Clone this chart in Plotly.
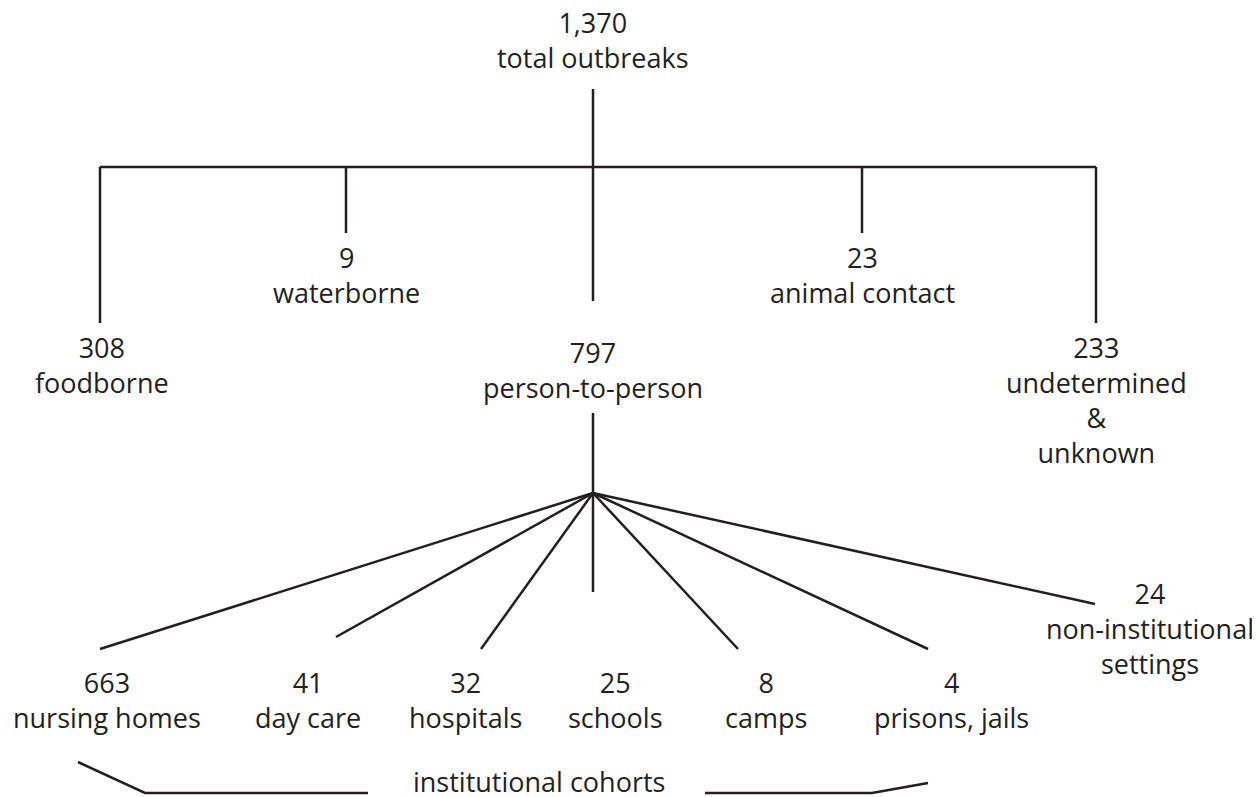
import plotly.graph_objects as go

# counts and labels
top_count = "1,370"
top_label = "total outbreaks"

route_counts = ["308", "9", "797", "23", "233"]
route_labels = ["foodborne", "waterborne", "person-to-person", "animal contact",
                "undetermined<br>&<br>unknown"]

setting_counts = ["663", "41", "32", "25", "8", "4", "24"]
setting_labels = ["nursing homes", "day care", "hospitals", "schools", "camps",
                  "prisons, jails", "non-institutional<br>settings"]

group_label = "institutional cohorts"

# layout in screen pixels (page body has an 8px margin)
W, H = 1260, 797
PAD = 8
INK = "#231f20"
FONT = dict(family="Open Sans, DejaVu Sans, sans-serif", size=27, color=INK)

cx = 593
bar_y = 167
route_x = [100, 346, 593, 862, 1096]
route_end = [323, 233, 301, 233, 323]
route_text_x = [102, 346, 593, 862, 1096]
route_text_y = [327, 237, 332, 237, 327]

fan_y = 493
setting_end = [(100, 649), (336, 637), (481, 649), (593, 592), (738, 649),
               (928, 649), (1095, 604)]
setting_x = [107, 308, 465, 615, 766, 951, 1150]
setting_text_y = [662, 662, 662, 662, 662, 662, 573]

xs, ys = [], []


def seg(pts):
    for x, y in pts:
        xs.append(x)
        ys.append(y)
    xs.append(None)
    ys.append(None)


# upper tree
seg([(cx, 89), (cx, bar_y)])
seg([(route_x[0], bar_y), (route_x[-1], bar_y)])
for x, y in zip(route_x, route_end):
    seg([(x, bar_y), (x, y)])

# lower fan
seg([(cx, 413), (cx, fan_y)])
for x, y in setting_end:
    seg([(cx, fan_y), (x, y)])

# bracket
seg([(78, 762), (145, 793), (368, 793)])
seg([(705, 793), (872, 793), (928, 783)])

fig = go.Figure()
fig.add_trace(go.Scatter(x=xs, y=ys, mode="lines",
                         line=dict(color=INK, width=2.5),
                         hoverinfo="skip", showlegend=False))


def label(x, y, text, shift=0):
    fig.add_annotation(x=x, y=y, text=text, showarrow=False, xanchor="center",
                       yanchor="top", font=FONT, align="center", yshift=shift)


label(cx, 12, top_count + "<br>" + top_label, shift=10)
for x, y, c, t in zip(route_text_x, route_text_y, route_counts, route_labels):
    label(x, y, c + "<br>" + t)
for x, y, c, t in zip(setting_x, setting_text_y, setting_counts, setting_labels):
    label(x, y, c + "<br>" + t)
label(539, 761, group_label)

fig.update_xaxes(range=[PAD, W], visible=False, fixedrange=True)
fig.update_yaxes(range=[H, PAD], visible=False, fixedrange=True)
fig.update_layout(width=W - PAD, height=H - PAD, margin=dict(l=0, r=0, t=0, b=0),
                  plot_bgcolor="white", paper_bgcolor="white")

fig.write_html("out.html")
